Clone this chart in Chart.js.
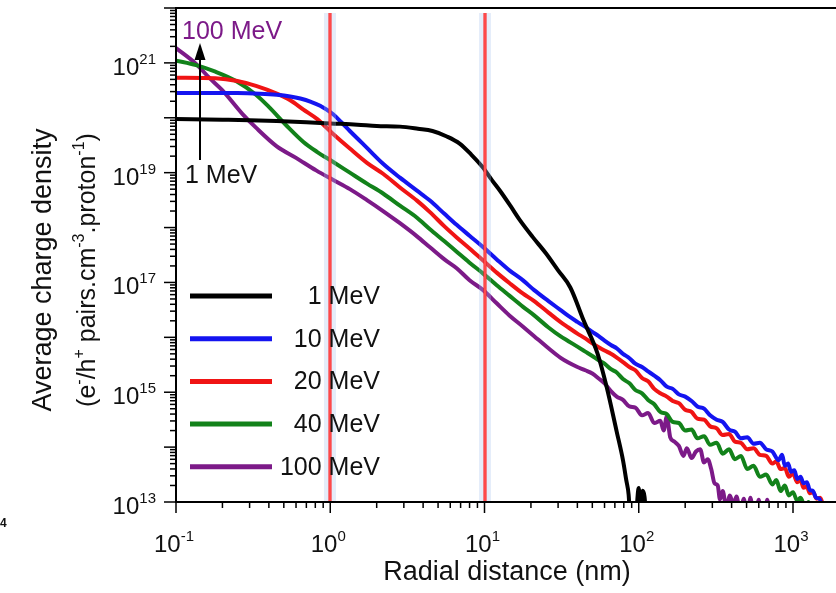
<!DOCTYPE html>
<html>
<head>
<meta charset="utf-8">
<script src="https://cdn.jsdelivr.net/npm/chart.js@4.4.1/dist/chart.umd.min.js"></script>
<style>body{margin:0;background:#fff}</style>
</head>
<body>
<canvas id="mycanvas" width="836" height="593"></canvas>
<script>
// tick exponents that get a label
var xLabelExps = [-1, 0, 1, 2, 3];
var yLabelExps = [13, 15, 17, 19, 21];
var energyNames = ['1 MeV', '10 MeV', '20 MeV', '40 MeV', '100 MeV'];
var lineColors = ['#000000', '#1414f0', '#f01414', '#12821a', '#7c1a88'];
var markerRadii = [1, 10];

// 1 MeV
var r1 = [0.1, 0.2, 0.3, 0.45, 0.7, 1, 1.5, 2, 2.83, 3.7, 4.6, 5.7, 6.9, 8.2, 9.8, 11.2, 12.6, 14.7, 17, 20.5, 25, 30, 36, 44, 54, 62, 72, 79, 83, 86, 88, 94, 100, 103, 106, 109, 113];
var d1 = [9.5e19, 9.2e19, 9.0e19, 8.7e19, 8.3e19, 7.9e19, 7.5e19, 7.1e19, 6.9e19, 6.3e19, 5.75e19, 4.57e19, 3.39e19, 2.14e19, 1.23e19, 7.24e18, 4.68e18, 2.5e18, 1.35e18, 6.76e17, 3.4e17, 1.66e17, 8.1e16, 2.0e16, 5.1e15, 1.23e15, 1.9e14, 5.8e13, 2.5e13, 1.35e13, 5e12, 3e12, 1.8e13, 6e12, 1.6e13, 1.25e13, 3e12];

// 10 MeV
var r10 = [0.1, 0.15, 0.25, 0.35, 0.45, 0.55, 0.64, 0.75, 0.86, 1.04, 1.18, 1.34, 1.53, 1.73, 2.2, 2.83, 3.65, 4.43, 5.5, 6.6, 8, 9.8, 12, 14.5, 17.7, 21, 26,
  31, 35, 40, 45, 50, 55, 60, 66, 72, 79, 87, 95, 105, 115, 126, 138, 152, 166, 182, 200, 220, 240, 265, 290, 320, 350, 385, 420, 460, 505, 555, 610, 670, 735, 805, 850, 885, 930, 970, 1020, 1065, 1120, 1170, 1230, 1285, 1350, 1410, 1480, 1550, 1640];
var d10 = [2.82e20, 2.82e20, 2.82e20, 2.75e20, 2.63e20, 2.45e20, 2.24e20, 1.95e20, 1.66e20, 1.17e20, 8.3e19, 5.75e19, 3.98e19, 2.82e19, 1.45e19, 8.1e18, 4.7e18, 3.1e18, 1.78e18, 1.12e18, 7.1e17, 4.4e17, 2.63e17, 1.66e17, 1.1e17, 7.24e16, 4.57e16,
  3.16e16, 2.45e16, 1.91e16, 1.55e16, 1.26e16, 1.05e16, 8.7e15, 7.24e15, 6.31e15, 5.01e15, 4.17e15, 3.31e15, 2.88e15, 2.4e15, 2.0e15, 1.66e15, 1.26e15, 1.15e15, 9.12e14, 8.32e14, 6.92e14, 5.5e14, 5.01e14, 3.8e14, 3.16e14, 2.88e14, 2.09e14, 1.91e14, 1.45e14, 1.51e14, 1.15e14, 1.2e14, 9.12e13, 8.32e13, 5.75e13, 7.24e13, 4.57e13, 5.01e13, 3.55e13, 3.8e13, 2.63e13, 2.88e13, 2.19e13, 2.29e13, 1.66e13, 1.58e13, 1.2e13, 1.15e13, 8.3e12, 5e12];

// 20 MeV
var r20 = [0.1, 0.18, 0.25, 0.33, 0.45, 0.55, 0.67, 0.82, 1.04, 1.34, 1.73, 2.2, 2.83, 3.65, 4.43, 5.5, 6.6, 8, 9.8, 12, 14.5, 17.7, 21, 26, 31,
  35, 40, 45, 50, 55, 60, 66, 72, 79, 87, 95, 105, 115, 126, 138, 152, 166, 182, 200, 220, 240, 265, 290, 320, 350, 385, 420, 460, 505, 555, 610, 670, 735, 780, 830, 885, 940, 1000, 1065, 1120, 1170, 1230, 1285, 1350, 1420, 1500, 1560, 1650];
var d20 = [5.37e20, 5.25e20, 4.68e20, 3.8e20, 2.75e20, 2.09e20, 1.41e20, 9.55e19, 5.13e19, 2.75e19, 1.51e19, 9.55e18, 5.37e18, 3.09e18, 1.91e18, 1.05e18, 6.61e17, 4.17e17, 2.51e17, 1.51e17, 9.77e16, 6.31e16, 4.57e16, 2.82e16, 1.91e16,
  1.51e16, 1.17e16, 9.55e15, 7.76e15, 6.61e15, 5.75e15, 5.01e15, 4.27e15, 3.55e15, 2.88e15, 2.51e15, 1.82e15, 1.58e15, 1.15e15, 9.55e14, 8.32e14, 6.92e14, 6.31e14, 4.79e14, 4.37e14, 3.31e14, 3.16e14, 2.4e14, 2.19e14, 1.66e14, 1.74e14, 1.26e14, 1.2e14, 9.12e13, 9.55e13, 7.24e13, 6.92e13, 5.01e13, 5.5e13, 3.98e13, 4.17e13, 2.88e13, 3.31e13, 2.29e13, 2.51e13, 1.82e13, 1.91e13, 1.45e13, 1.51e13, 1.15e13, 1.2e13, 9.1e12, 5e12];

// 40 MeV
var r40 = [0.1, 0.135, 0.18, 0.245, 0.33, 0.4, 0.52, 0.67, 0.82, 1.04, 1.34, 1.73, 2.2, 2.83, 3.65, 4.43, 5.5, 6.6, 8, 9.8, 12, 14.5, 17.7, 21, 26, 31,
  35, 40, 45, 50, 55, 60, 66, 72, 79, 87, 95, 105, 115, 126, 138, 152, 166, 182, 200, 220, 240, 265, 290, 320, 350, 385, 420, 460, 505, 555, 610, 670, 735, 780, 830, 885, 940, 1000, 1065, 1120, 1200, 1260, 1320];
var d40 = [1.1e21, 9.12e20, 6.92e20, 4.68e20, 2.63e20, 1.58e20, 7.24e19, 3.63e19, 2.4e19, 1.58e19, 1.0e19, 6.31e18, 4.17e18, 2.51e18, 1.51e18, 9.33e17, 5.62e17, 3.63e17, 2.29e17, 1.45e17, 8.9e16, 5.75e16, 3.63e16, 2.51e16, 1.51e16, 1.05e16,
  8.51e15, 6.76e15, 5.5e15, 4.57e15, 3.8e15, 3.31e15, 2.63e15, 2.29e15, 1.74e15, 1.45e15, 1.1e15, 9.55e14, 7.24e14, 6.03e14, 4.37e14, 3.98e14, 2.88e14, 2.75e14, 2.0e14, 2.09e14, 1.45e14, 1.58e14, 1.1e14, 1.2e14, 7.59e13, 9.12e13, 6.03e13, 6.92e13, 3.98e13, 4.57e13, 2.88e13, 3.16e13, 2.09e13, 2.51e13, 1.58e13, 2.0e13, 1.32e13, 1.51e13, 1.05e13, 1.2e13, 8e12, 1.0e13, 5e12];

// 100 MeV
var r100 = [0.1, 0.135, 0.164, 0.2, 0.27, 0.33, 0.45, 0.6, 0.81, 1.04, 1.34, 1.73, 2.2, 2.83, 3.65, 4.43, 5.5, 6.6, 8, 9.8, 12, 14.5, 17.7, 21, 26, 31,
  35, 40, 45, 50, 55, 60, 66, 72, 79, 87, 95, 105, 115, 126, 138, 145, 152, 160, 170, 182, 195, 205, 220, 235, 250, 265, 280, 295, 310, 325, 336, 350, 370, 390, 410, 430, 455, 480, 505, 530, 560, 600, 640, 680, 720];
var d100 = [1.86e21, 9.55e20, 5.37e20, 3.16e20, 1.17e20, 6.61e19, 3.02e19, 1.86e19, 1.1e19, 7.41e18, 5.01e18, 3.16e18, 2.0e18, 1.2e18, 6.92e17, 4.37e17, 2.63e17, 1.82e17, 1.1e17, 7.24e16, 4.17e16, 2.51e16, 1.58e16, 1.05e16, 6.31e15, 4.27e15,
  3.47e15, 2.88e15, 2.51e15, 2.19e15, 1.78e15, 1.45e15, 1.05e15, 8.32e14, 7.24e14, 5.5e14, 5.25e14, 3.8e14, 4.17e14, 2.75e14, 3.02e14, 2.0e14, 3.63e14, 1.51e14, 1.26e14, 1.05e14, 6.92e13, 9.55e13, 6.31e13, 8.32e13, 9.12e13, 5.25e13, 6.03e13, 3.98e13, 2.19e13, 2.0e13, 1.12e13, 1.58e13, 7.9e12, 1.32e13, 8.9e12, 1.26e13, 6.3e12, 1.15e13, 5e12, 1.2e13, 4e12, 1.1e13, 3e12, 1.1e13, 4e12];

var radii = [r1, r10, r20, r40, r100];
var densities = [d1, d10, d20, d40, d100];

var FONT = '"Liberation Sans", Arial, Helvetica, sans-serif';

function strokeLine(ctx, x1, y1, x2, y2) {
  ctx.beginPath();
  ctx.moveTo(x1, y1);
  ctx.lineTo(x2, y2);
  ctx.stroke();
}

// parts: [[text, isSup], ...]
function supText(ctx, parts, x, y, align, size, supSize, lift) {
  var w = 0;
  parts.forEach(function(p) {
    ctx.font = (p[1] ? supSize : size) + 'px ' + FONT;
    w += ctx.measureText(p[0]).width;
  });
  var cx = align === 'right' ? x - w : (align === 'center' ? x - w / 2 : x);
  ctx.textAlign = 'left';
  ctx.textBaseline = 'alphabetic';
  parts.forEach(function(p) {
    ctx.font = (p[1] ? supSize : size) + 'px ' + FONT;
    ctx.fillText(p[0], cx, p[1] ? y - lift : y);
    cx += ctx.measureText(p[0]).width;
  });
}

var overlay = {
  id: 'overlay',
  afterDatasetsDraw: function(chart) {
    var ctx = chart.ctx, xs = chart.scales.x, ys = chart.scales.y, a = chart.chartArea;
    ctx.save();

    // vertical markers at 1 nm and 10 nm
    markerRadii.forEach(function(v) {
      var px = Math.round(xs.getPixelForValue(v));
      ctx.fillStyle = 'rgba(170,195,240,0.3)';
      ctx.fillRect(px - 6, a.top + 5, 12, a.bottom - a.top - 5);
      ctx.strokeStyle = '#ff1010';
      ctx.lineWidth = 3;
      strokeLine(ctx, px, a.top + 5, px, a.bottom);
      ctx.strokeStyle = 'rgba(255,200,200,0.9)';
      ctx.lineWidth = 0.7;
      strokeLine(ctx, px, a.top + 5, px, a.bottom);
    });

    // frame
    ctx.strokeStyle = '#000';
    ctx.lineWidth = 2;
    strokeLine(ctx, a.left, a.top, a.right, a.top);
    strokeLine(ctx, a.left, a.top - 1, a.left, a.bottom + 1);
    strokeLine(ctx, a.left - 1, a.bottom, a.right, a.bottom);

    // x ticks
    ctx.lineWidth = 1.5;
    for (var e = -1; e <= 3; e++) {
      for (var m = 1; m <= 9; m++) {
        var v = m * Math.pow(10, e);
        if (v > xs.max) break;
        var px = xs.getPixelForValue(v);
        strokeLine(ctx, px, a.bottom, px, a.bottom + (m === 1 ? 11 : 6));
      }
    }
    // y ticks
    for (var ey = 13; ey <= 21; ey++) {
      for (var my = 1; my <= 9; my++) {
        var py = ys.getPixelForValue(my * Math.pow(10, ey));
        strokeLine(ctx, a.left - (my === 1 ? 12 : 6), py, a.left, py);
      }
    }
    var ptop = ys.getPixelForValue(1e22);
    strokeLine(ctx, a.left - 12, ptop, a.left, ptop);

    // tick labels
    ctx.fillStyle = '#111';
    xLabelExps.forEach(function(e) {
      var px = xs.getPixelForValue(Math.pow(10, e));
      supText(ctx, [['10', 0], [String(e), 1]], px - 2, a.bottom + 50, 'center', 24, 15, 11);
    });
    yLabelExps.forEach(function(e) {
      var py = ys.getPixelForValue(Math.pow(10, e));
      supText(ctx, [['10', 0], [String(e), 1]], a.left - 20, py + 12, 'right', 24, 15, 11);
    });

    // axis titles
    ctx.font = '27px ' + FONT;
    ctx.textAlign = 'center';
    ctx.textBaseline = 'alphabetic';
    ctx.fillText('Radial distance (nm)', 507, 580);
    ctx.save();
    ctx.translate(51, 270);
    ctx.rotate(-Math.PI / 2);
    ctx.fillText('Average charge density', 0, 0);
    supText(ctx, [['(e', 0], ['-', 1], ['/h', 0], ['+', 1], [' pairs.cm', 0], ['-3', 1], ['.proton', 0], ['-1', 1], [')', 0]], 0, 44, 'center', 25, 16, 11);
    ctx.restore();

    // legend
    energyNames.forEach(function(name, i) {
      var ly = 296 + i * 42.7;
      ctx.strokeStyle = lineColors[i];
      ctx.lineWidth = 5;
      strokeLine(ctx, 190, ly, 272, ly);
      ctx.fillStyle = '#111';
      ctx.font = '25px ' + FONT;
      ctx.textAlign = 'right';
      ctx.textBaseline = 'middle';
      ctx.fillText(name, 380, ly + 1);
    });

    // energy arrow annotation
    ctx.strokeStyle = '#000';
    ctx.fillStyle = '#000';
    ctx.lineWidth = 2;
    strokeLine(ctx, 200, 160, 200, 56);
    ctx.beginPath();
    ctx.moveTo(200, 43);
    ctx.lineTo(194.5, 60);
    ctx.lineTo(205.5, 60);
    ctx.closePath();
    ctx.fill();
    ctx.textAlign = 'left';
    ctx.textBaseline = 'alphabetic';
    ctx.font = '25px ' + FONT;
    ctx.fillStyle = lineColors[4];
    ctx.fillText('100 MeV', 182, 39);
    ctx.fillStyle = '#111';
    ctx.fillText('1 MeV', 185, 183);

    ctx.font = 'bold 12px ' + FONT;
    ctx.fillText('4', 0, 527);
    ctx.restore();
  }
};

var datasets = energyNames.map(function(name, i) {
  return {
    label: name,
    data: radii[i].map(function(r, k) { return {x: r, y: densities[i][k]}; }),
    borderColor: lineColors[i],
    borderWidth: 4,
    pointRadius: 0,
    cubicInterpolationMode: 'monotone',
    fill: false
  };
});

var ctx = document.getElementById('mycanvas').getContext('2d');
var chart = new Chart(ctx, {
  type: 'line',
  data: { datasets: datasets },
  options: {
    responsive: false,
    animation: false,
    devicePixelRatio: 1,
    layout: { padding: { left: 176, top: 8, right: 0, bottom: 91 } },
    plugins: { legend: { display: false }, tooltip: { enabled: false } },
    scales: {
      x: { type: 'logarithmic', min: 0.1, max: 1900, display: false },
      y: { type: 'logarithmic', min: 1e13, max: 1e22, display: false }
    }
  },
  plugins: [overlay]
});
</script>
</body>
</html>
